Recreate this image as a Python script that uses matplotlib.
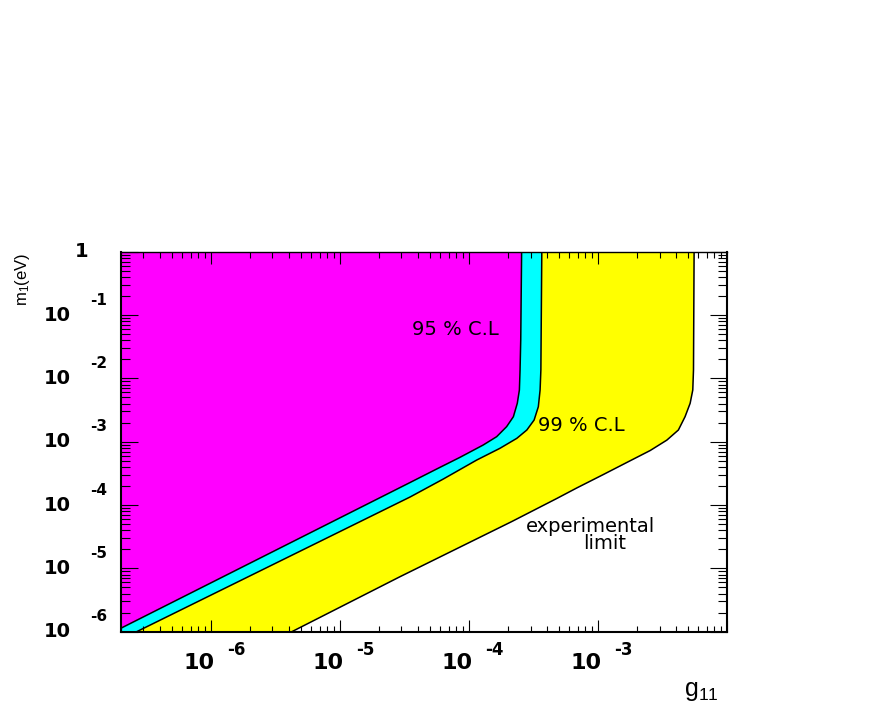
import numpy as np
import matplotlib
matplotlib.use("Agg")
import matplotlib.pyplot as plt
from matplotlib.ticker import LogLocator, NullFormatter
from matplotlib.transforms import offset_copy

# boundary curves (g11, m1 in eV), bottom -> top
g_95 = [2.0e-7, 3.50e-5, 5.63e-5, 8.53e-5, 1.29e-4, 1.64e-4, 1.96e-4, 2.21e-4, 2.37e-4, 2.46e-4,
        2.49e-4, 2.52e-4, 2.56e-4]
m_95 = [1.13e-6, 2.27e-4, 3.71e-4, 5.67e-4, 8.87e-4, 1.20e-3, 1.73e-3, 2.48e-3, 4.04e-3, 6.55e-3,
        1.36e-2, 4.03e-2, 1.0]

g_99 = [2.66e-7, 3.50e-5, 6.34e-5, 1.15e-4, 1.74e-4, 2.35e-4, 2.81e-4, 3.20e-4, 3.45e-4, 3.56e-4,
        3.61e-4, 3.67e-4]
m_99 = [1.0e-6, 1.34e-4, 2.58e-4, 5.14e-4, 7.87e-4, 1.13e-3, 1.53e-3, 2.20e-3, 3.57e-3, 6.55e-3,
        1.36e-2, 1.0]

g_exp = [4.24e-6, 2.92e-5, 2.15e-4, 4.80e-4, 6.85e-4, 1.10e-3, 1.67e-3, 2.54e-3, 3.42e-3, 4.20e-3,
         4.73e-3, 5.18e-3, 5.43e-3, 5.50e-3, 5.56e-3]
m_exp = [1.0e-6, 7.38e-6, 5.49e-5, 1.27e-4, 1.86e-4, 3.03e-4, 4.69e-4, 7.26e-4, 1.06e-3, 1.53e-3,
         2.48e-3, 4.04e-3, 6.55e-3, 1.36e-2, 1.0]

x_min, x_max = 2e-7, 1e-2
y_min, y_max = 1e-6, 1.0
x_exps = [-6, -5, -4, -3]
y_exps = [-1, -2, -3, -4, -5, -6]

fig = plt.figure(figsize=(8.72, 7.08), dpi=100)
ax = fig.add_axes([120.7/872, 1-631.7/708, (727-120.7)/872, (631.7-251.7)/708])
ax.set_xscale('log')
ax.set_yscale('log')
ax.set_xlim(x_min, x_max)
ax.set_ylim(y_min, y_max)

# filled regions
ax.fill([x_min] + g_95 + [x_min], [y_max] + m_95 + [y_max], color='#ff00ff', lw=0)
ax.fill([x_min] + g_99 + g_95[::-1], [y_min] + m_99 + m_95[::-1], color='#00ffff', lw=0)
ax.fill(g_exp + g_99[::-1], m_exp + m_99[::-1], color='#ffff00', lw=0)
for g, m in [(g_95, m_95), (g_99, m_99), (g_exp, m_exp)]:
    ax.plot(g, m, color='black', lw=1.1, solid_joinstyle='round')

# ticks
ax.xaxis.set_major_locator(LogLocator(base=10, numticks=20))
ax.xaxis.set_minor_locator(LogLocator(base=10, subs=np.arange(2, 10), numticks=100))
ax.yaxis.set_major_locator(LogLocator(base=10, numticks=20))
ax.yaxis.set_minor_locator(LogLocator(base=10, subs=np.arange(2, 10), numticks=100))
ax.xaxis.set_minor_formatter(NullFormatter())
ax.yaxis.set_minor_formatter(NullFormatter())
ax.tick_params(axis='x', which='major', direction='in', length=8.6, width=0.8, top=True, labelbottom=False)
ax.tick_params(axis='x', which='minor', direction='in', length=4.3, width=0.8, top=True)
ax.tick_params(axis='y', which='major', direction='in', length=12.5, width=0.8, right=True, labelleft=False)
ax.tick_params(axis='y', which='minor', direction='in', length=6.2, width=0.8, right=True)
for s in ax.spines.values():
    s.set_linewidth(1.5)
ax.spines['top'].set_linewidth(1.0)

# ROOT-style tick labels
lab = dict(family='DejaVu Sans', fontweight='bold', color='black')
xtr = ax.get_xaxis_transform()
for k in x_exps:
    ax.text(10.0**k, 0, "10", transform=offset_copy(xtr, fig=fig, x=4, y=-31, units='dots'),
            ha='right', va='center', fontsize=16, **lab)
    ax.text(10.0**k, 0, "%d" % k, transform=offset_copy(xtr, fig=fig, x=16, y=-18, units='dots'),
            ha='left', va='center', fontsize=12, **lab)
ytr = ax.get_yaxis_transform()
for k in y_exps:
    ax.text(0, 10.0**k, "10", transform=offset_copy(ytr, fig=fig, x=-50, y=0, units='dots'),
            ha='right', va='center', fontsize=14, **lab)
    ax.text(0, 10.0**k, "%d" % k, transform=offset_copy(ytr, fig=fig, x=-31, y=15, units='dots'),
            ha='left', va='center', fontsize=11, **lab)
ax.text(0, 1.0, "1", transform=offset_copy(ytr, fig=fig, x=-39, y=0, units='dots'),
        ha='center', va='center', fontsize=14, **lab)

# axis titles
fig.text(684/872, 1-696/708, r'$\mathregular{g_{11}}$', family='Liberation Sans',
         fontsize=18, ha='left', va='baseline')
fig.text(22/872, 1-253/708, r'$\mathregular{m_1(eV)}$', family='Liberation Sans',
         fontsize=12, rotation=90, ha='center', va='top')

# annotations
note = dict(family='DejaVu Sans', fontsize=14, color='black')
ax.text(3.6e-5, 0.060, "95 % C.L", ha='left', va='center', **note)
ax.text(3.44e-4, 1.77e-3, "99 % C.L", ha='left', va='center', **note)
ax.text(8.7e-4, 4.6e-5, "experimental", ha='center', va='center', **note)
ax.text(1.12e-3, 2.43e-5, "limit", ha='center', va='center', **note)

fig.savefig('out.png', dpi=100)
